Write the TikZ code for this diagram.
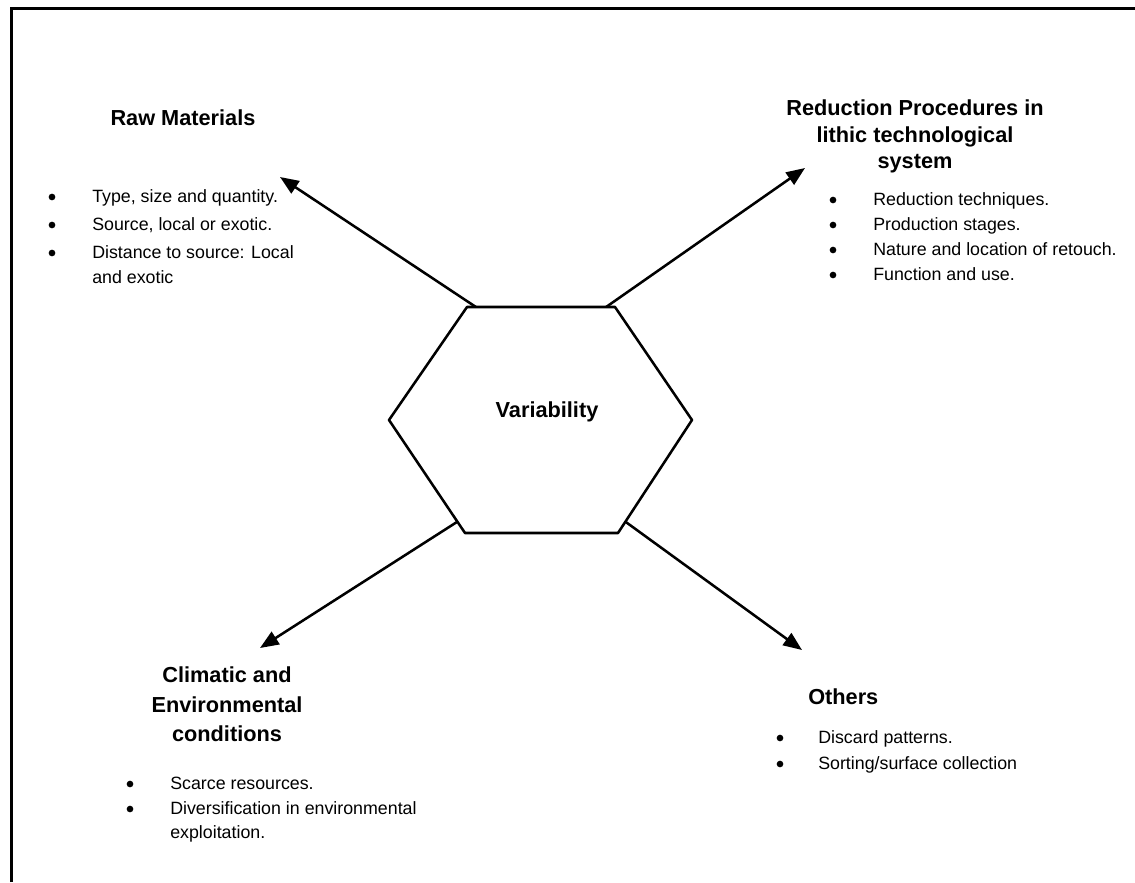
\documentclass[tikz,border=0pt]{standalone}
\usepackage{fontspec}
\setmainfont{Liberation Sans}
\usetikzlibrary{arrows.meta,calc}
\begin{document}
\begin{tikzpicture}[x=0.75pt,y=-0.75pt,
  head/.style={font=\fontsize{16.3}{20}\selectfont\bfseries, inner sep=0, anchor=base},
  item/.style={font=\fontsize{13.35}{16}\selectfont, inner sep=0, anchor=base west},
  dot/.style={circle, fill=black, inner sep=0, minimum size=5pt},
  link/.style={line width=1.9pt, -{Triangle[length=14pt,width=11pt]}},
  hexline/.style={line width=1.9pt, line join=round},
  frameline/.style={line width=2.25pt}]
\useasboundingbox (0,0) rectangle (1135,882);

% open frame: top and left rules only
\draw[frameline] (11,882) -- (11,8) -- (1135,8);

% central hexagon
\coordinate (h1) at (467,307);
\coordinate (h2) at (615,307);
\coordinate (h3) at (692,420);
\coordinate (h4) at (618,533);
\coordinate (h5) at (465,533);
\coordinate (h6) at (389,420);
\draw[hexline] (h1) -- (h2) -- (h3) -- (h4) -- (h5) -- (h6) -- cycle;
\node[head] (var) at (547,417) {Variability};

% arrow ends
\coordinate (rawtip) at (280,177);
\coordinate (redtip) at (805,168);
\coordinate (clitip) at (260,648);
\coordinate (othtip) at (802,650);

\draw[link] ($(h1)!0.06!(h2)$) -- (rawtip);
\draw[link] ($(h1)!0.94!(h2)$) -- (redtip);
\draw[link] ($(h6)!0.9!(h5)$) -- (clitip);
\draw[link] ($(h3)!0.9!(h4)$) -- (othtip);

% Raw Materials
\node[head] (rawh) at (183,125) {Raw Materials};
\node[dot] (rawb1) at (52,197) {};
\node[item] (rawt1) at (92,202.5) {Type, size and quantity.};
\node[dot] (rawb2) at (52,225) {};
\node[item] (rawt2) at (92,230.5) {Source, local or exotic.};
\node[dot] (rawb3) at (52,253) {};
\node[item] (rawt3) at (92,258.5) {Distance to source: Local};
\node[item] (rawt4) at (92,283) {and exotic};

% Reduction procedures
\node[head] (redh1) at (915,115) {Reduction Procedures in};
\node[head] (redh2) at (915,142) {lithic technological};
\node[head] (redh3) at (915,168) {system};
\node[dot] (redb1) at (833,200) {};
\node[item] (redt1) at (873,205.5) {Reduction techniques.};
\node[dot] (redb2) at (833,225) {};
\node[item] (redt2) at (873,230.5) {Production stages.};
\node[dot] (redb3) at (833,250) {};
\node[item] (redt3) at (873,255.5) {Nature and location of retouch.};
\node[dot] (redb4) at (833,275) {};
\node[item] (redt4) at (873,280.5) {Function and use.};

% Climatic and environmental conditions
\node[head] (clih1) at (227,682) {Climatic and};
\node[head] (clih2) at (227,712) {Environmental};
\node[head] (clih3) at (227,741) {conditions};
\node[dot] (clib1) at (130,784) {};
\node[item] (clit1) at (170,789.5) {Scarce resources.};
\node[dot] (clib2) at (130,809) {};
\node[item] (clit2) at (170,814.5) {Diversification in environmental};
\node[item] (clit3) at (170,838.5) {exploitation.};

% Others
\node[head, anchor=base west] (othh) at (808,704) {Others};
\node[dot] (othb1) at (780,738) {};
\node[item] (otht1) at (818,743.5) {Discard patterns.};
\node[dot] (othb2) at (780,764) {};
\node[item] (otht2) at (818,769.5) {Sorting/surface collection};
\end{tikzpicture}
\end{document}
